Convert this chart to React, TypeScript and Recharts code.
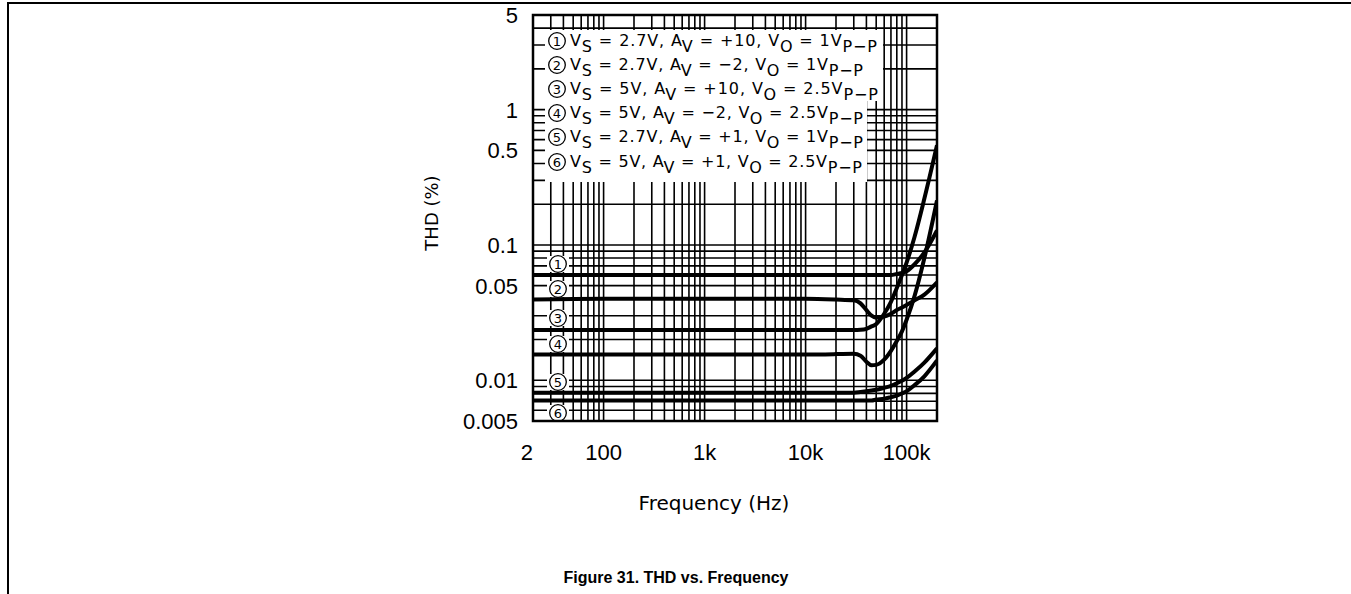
import { LineChart, Line, XAxis, YAxis, CartesianGrid, ReferenceArea } from 'recharts';

// frequency points (Hz) and THD (%) for the six test conditions
const freq = [20, 100, 1000, 10000, 20000, 30000, 35000, 40000, 45000, 50000, 60000, 70000, 80000, 90000, 100000, 120000, 150000, 200000];
const thd1 = [0.060, 0.060, 0.060, 0.060, 0.060, 0.060, 0.060, 0.060, 0.060, 0.060, 0.060, 0.060, 0.061, 0.062, 0.064, 0.072, 0.088, 0.128];
const thd2 = [0.0395, 0.040, 0.040, 0.040, 0.0395, 0.039, 0.037, 0.033, 0.030, 0.029, 0.0295, 0.031, 0.033, 0.0345, 0.036, 0.039, 0.043, 0.053];
const thd3 = [0.0235, 0.0235, 0.0235, 0.0235, 0.0235, 0.0235, 0.0236, 0.024, 0.025, 0.026, 0.031, 0.038, 0.048, 0.060, 0.074, 0.115, 0.22, 0.545];
const thd4 = [0.0155, 0.0155, 0.0155, 0.0155, 0.0156, 0.0157, 0.0152, 0.0137, 0.0129, 0.013, 0.0142, 0.0165, 0.0195, 0.023, 0.028, 0.042, 0.080, 0.213];
const thd5 = [0.0081, 0.0081, 0.0081, 0.0081, 0.0081, 0.0081, 0.0082, 0.0083, 0.0084, 0.0085, 0.0088, 0.0091, 0.0095, 0.0099, 0.0104, 0.0116, 0.0135, 0.0172];
const thd6 = [0.0071, 0.0071, 0.0071, 0.0071, 0.0071, 0.0071, 0.0071, 0.0071, 0.0071, 0.0072, 0.0073, 0.0075, 0.0077, 0.0080, 0.0083, 0.0092, 0.0107, 0.0140];

const xGrid = [20, 30, 40, 50, 60, 70, 80, 90, 100, 200, 300, 400, 500, 600, 700, 800, 900, 1000, 2000, 3000, 4000, 5000, 6000, 7000, 8000, 9000, 10000, 20000, 30000, 40000, 50000, 60000, 70000, 80000, 90000, 100000, 200000];
const yGrid = [0.005, 0.006, 0.007, 0.008, 0.009, 0.01, 0.02, 0.03, 0.04, 0.05, 0.06, 0.07, 0.08, 0.09, 0.1, 0.2, 0.3, 0.4, 0.5, 0.6, 0.7, 0.8, 0.9, 1, 2, 3, 4, 5];
const xLabels: Record<number, string> = { 20: '2', 100: '100', 1000: '1k', 10000: '10k', 100000: '100k' };
const yLabels: Record<number, string> = { 0.005: '0.005', 0.01: '0.01', 0.05: '0.05', 0.1: '0.1', 0.5: '0.5', 1: '1', 5: '5' };

const legendRows = [
  'V_{S} = 2.7V, A_{V} = +10, V_{O} = 1V_{P−P}',
  'V_{S} = 2.7V, A_{V} = −2, V_{O} = 1V_{P−P}',
  'V_{S} = 5V, A_{V} =  +10, V_{O} = 2.5V_{P−P}',
  'V_{S} = 5V, A_{V} = −2, V_{O} = 2.5V_{P−P}',
  'V_{S} = 2.7V, A_{V} = +1, V_{O} = 1V_{P−P}',
  'V_{S} = 5V, A_{V} = +1, V_{O} = 2.5V_{P−P}',
];

const series = [thd1, thd2, thd3, thd4, thd5, thd6];
const data = freq.map((f, i) => {
  const row: Record<string, number> = { f };
  series.forEach((s, k) => (row[`c${k + 1}`] = s[i]));
  return row;
});

const plotFont = '"DejaVu Sans", sans-serif';
const tickFont = '"Liberation Sans", Arial, sans-serif';

const XTick = (props: any) => {
  const { x, y, payload } = props;
  const label = xLabels[payload.value];
  if (!label) return <g />;
  const first = payload.value === 20;
  return (
    <text x={x} y={y + 37} textAnchor={first ? 'end' : 'middle'} fontFamily={tickFont} fontSize={22} fill="#000">
      {label}
    </text>
  );
};

const YTick = (props: any) => {
  const { x, y, payload } = props;
  const label = yLabels[payload.value];
  if (!label) return <g />;
  return (
    <text x={x - 13} y={y + 8} textAnchor="end" fontFamily={tickFont} fontSize={22} fill="#000">
      {label}
    </text>
  );
};

function richText(s: string) {
  const parts = s.split(/_\{([^}]*)\}/);
  const out: any[] = [];
  parts.forEach((p, i) => {
    if (!p) return;
    const sub = i % 2 === 1;
    out.push(
      <tspan key={i} dy={sub ? 6 : out.length ? -6 : 0}>
        {p}
      </tspan>
    );
  });
  return out;
}

const rowY = [41, 65, 89, 113, 137, 162];
const rowLen = [307, 293, 308, 293, 293, 292];
const markY = [264, 289, 318, 344, 382, 413];

function Marker({ cx, cy, n }: { cx: number; cy: number; n: number }) {
  return (
    <g>
      <circle cx={cx} cy={cy} r={8.3} fill="#fff" stroke="#000" strokeWidth={1.3} />
      <text x={cx} y={cy + 4.7} textAnchor="middle" fontFamily={plotFont} fontSize={13} fill="#000">
        {n}
      </text>
    </g>
  );
}

function Notes() {
  return (
    <g>
      <rect x={545} y={30} width={338} height={71} fill="#fff" />
      <rect x={545} y={100} width={322} height={82} fill="#fff" />
      {legendRows.map((r, i) => (
        <g key={i}>
          <Marker cx={557} cy={rowY[i]} n={i + 1} />
          <text x={570} y={rowY[i] + 5} fontFamily={plotFont} fontSize={16} fill="#000" textLength={rowLen[i]} lengthAdjust="spacing">
            {richText(r)}
          </text>
        </g>
      ))}
      {markY.map((y, i) => (
        <g key={i}>
          <rect x={547} y={y - 8} width={22} height={16} fill="#fff" />
          <Marker cx={558} cy={y} n={i + 1} />
        </g>
      ))}
      <text x={714} y={510} textAnchor="middle" fontFamily={plotFont} fontSize={20} fill="#000">
        Frequency (Hz)
      </text>
      <text x={438} y={213} textAnchor="middle" fontFamily={plotFont} fontSize={18} fill="#000" transform="rotate(-90 438 213)">
        THD (%)
      </text>
      <text x={676} y={583} textAnchor="middle" fontFamily={tickFont} fontSize={16} fontWeight="bold" fill="#000">
        Figure 31. THD vs. Frequency
      </text>
    </g>
  );
}

export default function App() {
  return (
    <div style={{ position: 'fixed', left: 0, top: 0, width: 1351, height: 594, background: '#fff' }}>
      <div style={{ position: 'absolute', left: 7, top: 2, right: 0, bottom: 0, borderTop: '2px solid #000', borderLeft: '2px solid #000' }} />
      <div style={{ position: 'absolute', left: 0, top: 0 }}>
        <LineChart width={1351} height={594} data={data} margin={{ top: 15, right: 414, bottom: 113, left: 453 }}>
          <CartesianGrid stroke="#000" strokeWidth={1.6} strokeOpacity={1} />
          <XAxis
            dataKey="f"
            type="number"
            scale="log"
            domain={[20, 200000]}
            ticks={xGrid}
            interval={0}
            allowDataOverflow
            axisLine={false}
            tickLine={false}
            tickSize={0}
            tick={<XTick />}
            height={60}
          />
          <YAxis
            type="number"
            scale="log"
            domain={[0.005, 5]}
            ticks={yGrid}
            interval={0}
            allowDataOverflow
            axisLine={false}
            tickLine={false}
            tickSize={0}
            tick={<YTick />}
            width={80}
          />
          <Notes />
          {series.map((_, k) => (
            <Line
              key={k}
              dataKey={`c${k + 1}`}
              type="monotone"
              stroke="#000"
              strokeWidth={4}
              dot={false}
              activeDot={false}
              isAnimationActive={false}
            />
          ))}
          <ReferenceArea x1={20} x2={200000} y1={0.005} y2={5} fill="none" stroke="#000" strokeWidth={2.5} ifOverflow="visible" />
        </LineChart>
      </div>
    </div>
  );
}
